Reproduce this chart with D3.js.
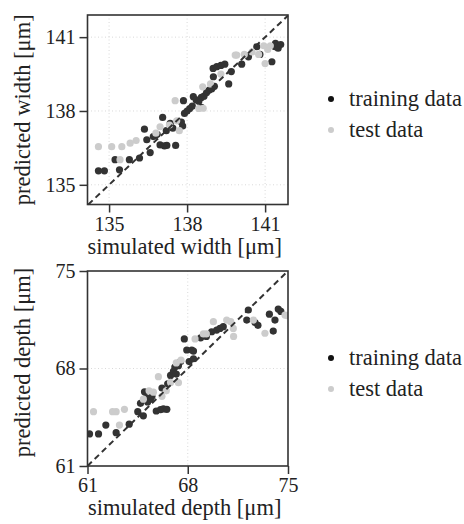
<!DOCTYPE html>
<html><head><meta charset="utf-8">
<script src="https://cdn.jsdelivr.net/npm/d3@7"></script>
<style>body{margin:0;background:#fff}svg{display:block}text{font-family:"Liberation Serif","Times New Roman",serif;fill:#222}</style>
</head><body><svg id="c" width="464" height="524"></svg>
<script>
// ---- data ----
const widthTicks = [135, 138, 141];
const depthTicks = [61, 68, 75];
const legendLabels = ["training data", "test data"];

const trainWidth = [
[134.59,135.57],[134.82,135.57],[135.23,136.02],[135.40,135.61],[135.78,136.02],[136.17,136.09],
[136.36,137.26],[136.45,136.83],[136.58,136.31],[136.70,136.96],[136.78,137.0],[136.85,137.05],
[136.96,136.62],[137.13,136.58],[137.22,136.60],[137.56,136.60],[137.06,137.74],[137.2,137.2],
[137.35,137.5],[137.45,137.3],[137.83,137.39],[137.78,137.55],[137.86,138.42],[137.9,137.9],
[138.0,138.0],[138.1,138.1],[138.2,138.2],[138.24,138.58],[138.35,138.45],[138.45,138.4],
[138.55,138.55],[138.65,138.6],[138.75,138.75],[138.85,138.85],[138.95,138.9],[139.05,139.0],
[138.55,138.15],[139.01,139.39],[139.0,139.73],[139.14,139.80],[139.3,139.85],[139.45,139.9],
[139.6,139.1],[139.7,139.6],[140.36,140.2],[140.1,139.9],[140.68,140.61],[140.8,140.3],
[141.26,140.0],[141.38,140.61],[141.5,140.55],[141.4,140.75],[141.6,140.7]
];
const testWidth = [
[134.59,136.55],[135.10,136.55],[135.49,136.55],[135.81,136.69],[136.04,136.80],[135.42,136.02],
[136.96,137.36],[137.32,137.43],[137.54,138.42],[137.6,137.6],[137.7,137.2],[138.62,138.11],
[138.45,138.1],[138.6,138.98],[138.9,139.1],[139.3,139.5],[139.85,140.27],[139.91,140.27],
[140.2,140.3],[140.5,140.4],[140.75,140.3],[141.0,139.93],[141.1,140.5],[140.95,140.65],
[141.2,140.65],[136.8,137.1]
];
const trainDepth = [
[61.14,63.30],[61.77,63.30],[62.28,63.94],[63.0,63.39],[63.91,64.0],[64.51,64.90],[64.7,65.5],
[64.9,64.6],[64.98,66.33],[65.2,65.6],[65.4,65.8],[65.5,66.0],[65.1,65.9],[65.8,64.95],[66.1,65.05],
[66.3,65.1],[66.54,65.07],[66.2,66.6],[66.6,66.9],[66.8,67.5],[67.0,67.8],[67.2,67.6],[67.1,68.1],
[67.35,68.2],[67.5,68.5],[67.76,70.12],[67.93,69.33],[68.28,69.33],[68.4,69.25],[68.1,68.5],
[68.4,68.7],[69.67,70.64],[70.02,70.76],[70.25,70.88],[70.48,71.0],[68.9,70.2],[69.3,70.3],
[72.12,71.48],[72.23,72.2],[72.7,71.3],[72.9,71.1],[73.97,70.69],[74.32,72.27],[74.09,71.48],
[74.5,72.1],[73.7,71.9]
];
const testDepth = [
[61.42,64.90],[63.0,64.9],[62.75,64.9],[63.58,65.07],[63.23,63.94],[64.9,65.8],[65.3,66.4],
[65.6,66.3],[65.95,67.41],[66.2,66.0],[66.5,66.4],[66.8,67.0],[67.35,66.98],[67.53,68.61],
[67.2,68.4],[68.51,70.12],[69.09,70.48],[69.3,70.48],[69.79,71.36],[70.72,71.48],[71.0,71.36],
[71.18,70.88],[71.2,70.3],[72.58,71.48],[73.39,70.53],[74.79,71.84],[74.9,71.8]
];

// ---- drawing ----
const svg = d3.select("#c");
const DARK = "#333333", LIGHT = "#cccccc", LEG_DARK = "#111111";

function panel(o) {
  const x = d3.scaleLinear().domain(o.xd).range([o.left, o.right]);
  const y = d3.scaleLinear().domain(o.yd).range([o.bottom, o.top]);
  const g = svg.append("g");
  const clipId = "clip" + o.id;
  svg.append("clipPath").attr("id", clipId).append("rect")
    .attr("x", o.left).attr("y", o.top).attr("width", o.right - o.left).attr("height", o.bottom - o.top);
  // grid
  const grid = g.append("g").attr("stroke", "#d9d9d9").attr("stroke-width", 1).attr("stroke-dasharray", "1,2.5");
  o.ticks.forEach(t => {
    const xp = x(t), yp = y(t);
    if (xp > o.left + 1 && xp < o.right - 1) grid.append("line").attr("x1", xp).attr("x2", xp).attr("y1", o.top).attr("y2", o.bottom);
    if (yp > o.top + 1 && yp < o.bottom - 1) grid.append("line").attr("y1", yp).attr("y2", yp).attr("x1", o.left).attr("x2", o.right);
  });
  // points
  const pts = g.append("g").attr("clip-path", `url(#${clipId})`);
  pts.selectAll(".tr").data(o.train).join("circle").attr("cx", d => x(d[0])).attr("cy", d => y(d[1])).attr("r", 3.6).attr("fill", DARK);
  pts.selectAll(".te").data(o.test).join("circle").attr("cx", d => x(d[0])).attr("cy", d => y(d[1])).attr("r", 3.6).attr("fill", LIGHT);
  // diagonal
  const lo = Math.max(o.xd[0], o.yd[0]), hi = Math.min(o.xd[1], o.yd[1]);
  g.append("line").attr("x1", x(lo)).attr("y1", y(lo)).attr("x2", x(hi)).attr("y2", y(hi))
    .attr("stroke", DARK).attr("stroke-width", 2).attr("stroke-dasharray", "6,4");
  // axes
  const ax = g.append("g").attr("transform", `translate(0,${o.bottom})`)
    .call(d3.axisBottom(x).tickValues(o.ticks).tickSize(8).tickPadding(4).tickFormat(d3.format("d")));
  const ay = g.append("g").attr("transform", `translate(${o.left},0)`)
    .call(d3.axisLeft(y).tickValues(o.ticks).tickSize(8).tickPadding(4).tickFormat(d3.format("d")));
  [ax, ay].forEach(a => {
    a.select(".domain").remove();
    a.selectAll(".tick line").attr("stroke", DARK).attr("stroke-width", 1.5);
    a.selectAll(".tick text").attr("font-size", 20).attr("fill", "#222")
      .attr("font-family", '"Liberation Serif", serif');
  });
  // frame
  g.append("rect").attr("x", o.left).attr("y", o.top).attr("width", o.right - o.left).attr("height", o.bottom - o.top)
    .attr("fill", "none").attr("stroke", DARK).attr("stroke-width", 1.6);
  // labels
  g.append("text").attr("x", (o.left + o.right) / 2 - 3).attr("y", o.bottom + 49).attr("text-anchor", "middle")
    .attr("font-size", 22.5).text(o.xlabel);
  g.append("text").attr("transform", `translate(${o.left - 58},${(o.top + o.bottom) / 2 + o.ylShift}) rotate(-90)`)
    .attr("text-anchor", "middle").attr("font-size", 22.5).text(o.ylabel);
  // legend
  const lg = g.append("g");
  [[LEG_DARK, legendLabels[0]], [LIGHT, legendLabels[1]]].forEach((d, i) => {
    const yy = o.legendY + i * 31;
    lg.append("circle").attr("cx", 331).attr("cy", yy).attr("r", 3).attr("fill", d[0]);
    lg.append("text").attr("x", 349).attr("y", yy + 7).attr("font-size", 22.5).text(d[1]);
  });
}

panel({id: 1, xd: [134.17, 141.88], yd: [134.2, 141.9], left: 87.5, right: 288, top: 15, bottom: 204.5,
  ticks: widthTicks, train: trainWidth, test: testWidth, ylShift: 0,
  xlabel: "simulated width [μm]", ylabel: "predicted width [μm]", legendY: 99});
panel({id: 2, xd: [61, 75], yd: [61, 75], left: 87.5, right: 288, top: 271, bottom: 466,
  ticks: depthTicks, train: trainDepth, test: testDepth, ylShift: -6,
  xlabel: "simulated depth [μm]", ylabel: "predicted depth [μm]", legendY: 358});
</script></body></html>
